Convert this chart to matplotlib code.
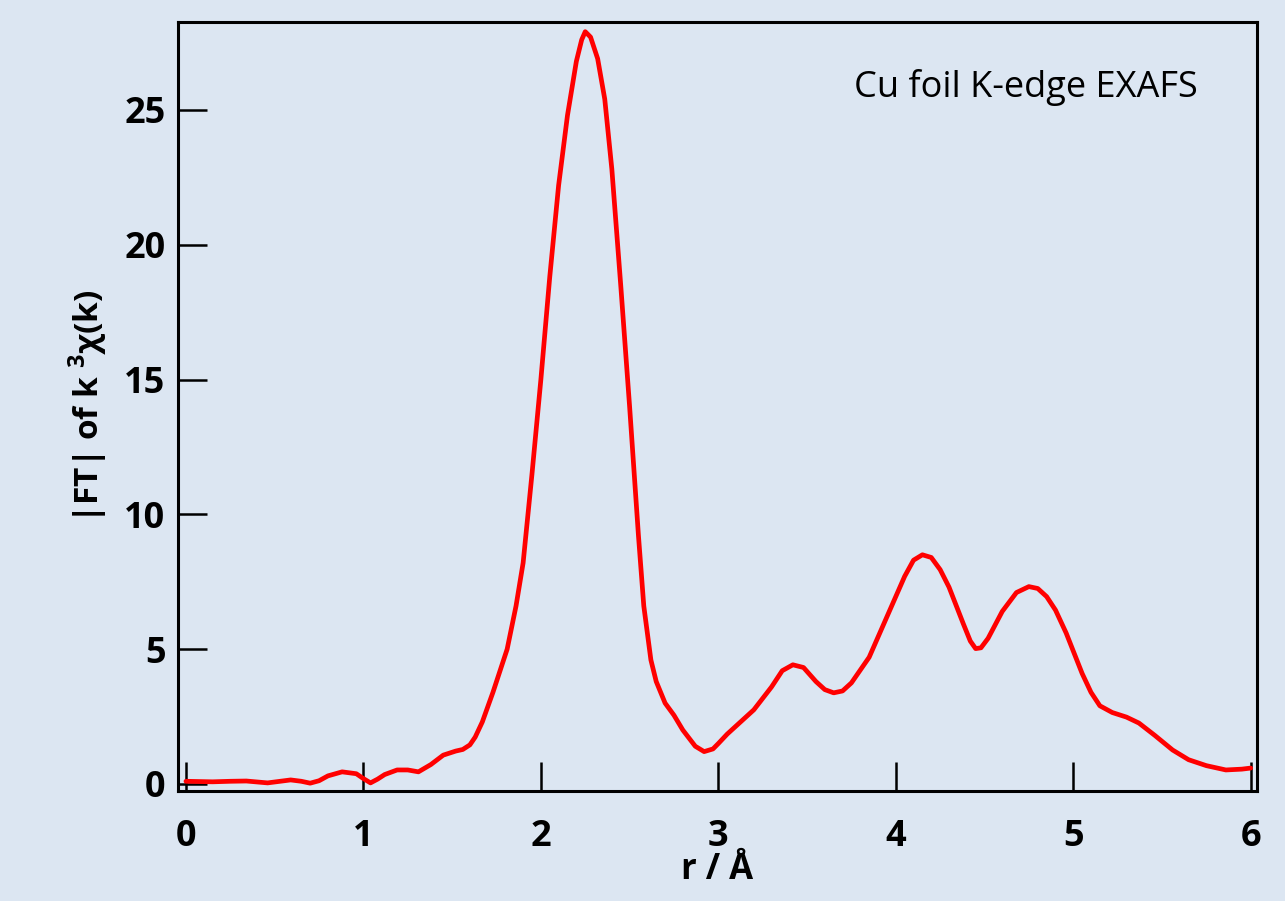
import matplotlib.pyplot as plt

# r (Angstrom) and |FT| of k^3 chi(k)
r = [0.00, 0.15, 0.25, 0.34, 0.46, 0.59, 0.65, 0.70, 0.75, 0.80, 0.88, 0.96, 1.00,
     1.04, 1.08, 1.12, 1.19, 1.25, 1.31, 1.38, 1.45, 1.52, 1.56, 1.60, 1.63, 1.67,
     1.73, 1.78, 1.81, 1.86, 1.90, 1.95, 2.00, 2.05, 2.10, 2.15, 2.20, 2.23, 2.25,
     2.28, 2.32, 2.36, 2.40, 2.45, 2.50, 2.55, 2.58, 2.62, 2.65, 2.70, 2.75, 2.80,
     2.87, 2.92, 2.97, 3.00, 3.05, 3.10, 3.20, 3.30, 3.36, 3.42, 3.48, 3.55, 3.60,
     3.65, 3.70, 3.75, 3.85, 3.95, 4.05, 4.10, 4.15, 4.20, 4.25, 4.30, 4.38, 4.42,
     4.45, 4.48, 4.52, 4.60, 4.68, 4.75, 4.80, 4.85, 4.90, 4.96, 5.05, 5.10, 5.15,
     5.22, 5.30, 5.37, 5.46, 5.56, 5.65, 5.75, 5.86, 5.95, 6.00]
ft = [0.10, 0.08, 0.10, 0.11, 0.04, 0.15, 0.10, 0.03, 0.12, 0.30, 0.45, 0.38, 0.20,
      0.04, 0.18, 0.35, 0.52, 0.52, 0.45, 0.72, 1.07, 1.22, 1.28, 1.45, 1.74, 2.30,
      3.40, 4.40, 5.00, 6.60, 8.20, 11.5, 15.0, 18.8, 22.2, 24.8, 26.8, 27.6, 27.9,
      27.7, 26.9, 25.4, 22.8, 18.5, 14.0, 9.2, 6.6, 4.6, 3.8, 3.0, 2.55, 2.00,
      1.40, 1.20, 1.30, 1.50, 1.85, 2.15, 2.75, 3.60, 4.20, 4.42, 4.32, 3.80, 3.50,
      3.38, 3.45, 3.75, 4.70, 6.20, 7.70, 8.30, 8.50, 8.40, 7.95, 7.30, 5.95, 5.30,
      5.02, 5.05, 5.40, 6.40, 7.10, 7.32, 7.25, 6.95, 6.45, 5.60, 4.10, 3.40, 2.90,
      2.65, 2.48, 2.26, 1.80, 1.26, 0.90, 0.68, 0.52, 0.55, 0.59]

xticks = [0, 1, 2, 3, 4, 5, 6]
yticks = [0, 5, 10, 15, 20, 25]

bg = '#dce6f2'
plt.rcParams['font.family'] = ['Open Sans', 'DejaVu Sans']
plt.rcParams['mathtext.fontset'] = 'custom'
plt.rcParams['mathtext.bf'] = 'Open Sans:bold'
plt.rcParams['mathtext.rm'] = 'Open Sans'

fig = plt.figure(figsize=(12.85, 9.01), dpi=100, facecolor=bg)
ax = fig.add_axes([0.1385, 0.1221, 0.8395, 0.8535], facecolor=bg)

ax.plot(r, ft, color='#ff0000', lw=3.4, solid_joinstyle='round', solid_capstyle='round')

ax.set_xlim(-0.045, 6.034)
ax.set_ylim(-0.26, 28.26)
ax.set_xticks(xticks)
ax.set_yticks(yticks)
ax.tick_params(axis='both', direction='in', length=21, width=1.8, labelsize=26)
ax.tick_params(axis='x', pad=20, top=False)
ax.tick_params(axis='y', pad=9, right=False)
for lbl in ax.get_xticklabels() + ax.get_yticklabels():
    lbl.set_fontweight('bold')
for s in ax.spines.values():
    s.set_linewidth(2.2)

ax.set_xlabel('r / Å', fontsize=25, fontweight='bold', labelpad=-2)
ax.set_ylabel(r'|FT| of k $^{\mathbf{3}}$χ(k)', fontsize=24, fontweight='bold', labelpad=10)

ax.text(0.945, 0.915, 'Cu foil K-edge EXAFS', transform=ax.transAxes,
        ha='right', va='center', fontsize=26)

fig.savefig('out.png', dpi=100, facecolor=bg)
